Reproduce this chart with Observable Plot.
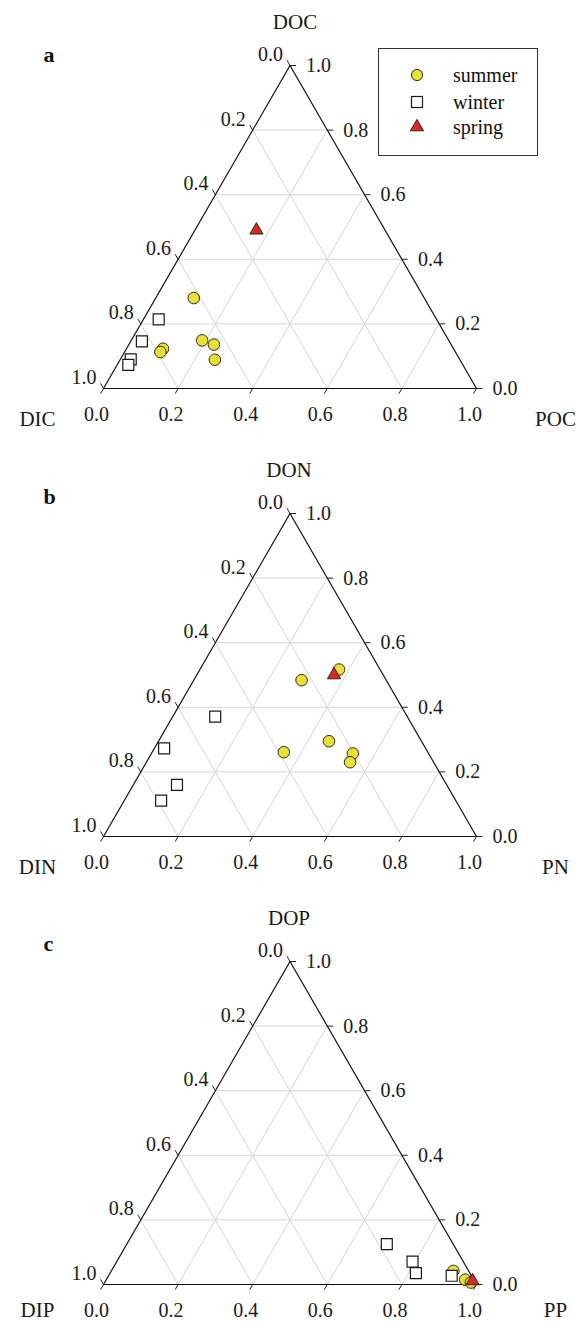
<!DOCTYPE html>
<html>
<head>
<meta charset="utf-8">
<script src="https://cdn.jsdelivr.net/npm/d3@7"></script>
<script src="https://cdn.jsdelivr.net/npm/@observablehq/plot@0.6"></script>
<style>
  body { margin: 0; background: #fff; color: #111; font-family: "Liberation Serif", "Times New Roman", serif; }
  #wrap { position: relative; width: 588px; height: 1323px; }
  #wrap svg { display: block; overflow: visible; }
  .legend { position: absolute; left: 378px; top: 48px; width: 160px; height: 108px; border: 1px solid #333; box-sizing: border-box; background: #fff; }
  .legend .row { position: absolute; left: 0; height: 24px; line-height: 24px; font-size: 20px; }
  .legend .row svg { position: absolute; left: 27px; top: 1px; }
  .legend .row span { position: absolute; left: 74px; top: 0; white-space: nowrap; }
</style>
</head>
<body>
<div id="wrap"></div>
<script>
// ---------- shared values ----------
const seasons = ["summer", "winter", "spring"];
const seasonSymbols = ["circle", "square", "triangle"];
const seasonFills = ["#e8e035", "#ffffff", "#d92a1f"];
const tickValues = [0, 0.2, 0.4, 0.6, 0.8, 1.0];
const gridValues = [0.2, 0.4, 0.6, 0.8];

// ---------- panel a: carbon ----------
const carbonSeason = ["summer","summer","summer","summer","summer","summer","winter","winter","winter","winter","spring"];
const carbonDIC = [0.618, 0.661, 0.636, 0.657, 0.779, 0.791, 0.745, 0.824, 0.882, 0.897, 0.345];
const carbonDOC = [0.280, 0.149, 0.136, 0.089, 0.123, 0.113, 0.214, 0.146, 0.090, 0.073, 0.490];
const carbonPOC = [0.102, 0.190, 0.228, 0.254, 0.098, 0.096, 0.041, 0.030, 0.028, 0.030, 0.165];

// ---------- panel b: nitrogen ----------
const nitrogenSeason = ["summer","summer","summer","summer","summer","summer","winter","winter","winter","winter","spring"];
const nitrogenDIN = [0.227, 0.110, 0.248, 0.386, 0.203, 0.224, 0.515, 0.701, 0.723, 0.790, 0.132];
const nitrogenDON = [0.484, 0.517, 0.295, 0.261, 0.257, 0.230, 0.371, 0.273, 0.160, 0.111, 0.500];
const nitrogenPN  = [0.289, 0.373, 0.457, 0.353, 0.540, 0.546, 0.114, 0.026, 0.117, 0.099, 0.368];

// ---------- panel c: phosphorus ----------
const phosSeason = ["summer","summer","summer","winter","winter","winter","winter","spring"];
const phosDIP = [0.041, 0.023, 0.012, 0.178, 0.136, 0.145, 0.053, 0.005];
const phosDOP = [0.042, 0.015, 0.006, 0.125, 0.071, 0.035, 0.027, 0.011];
const phosPP  = [0.917, 0.962, 0.982, 0.697, 0.793, 0.820, 0.920, 0.984];

const fmt = v => v.toFixed(1);
const D = 0.016; // tick length in composition units

function ternaryPanel({letter, top, left, right, season, topVals, rightVals, height, marginBottom, titleDx, letterDy, cornerDy}) {
  // ternary -> cartesian: x = right + top/2, y = top
  const pts = season.map((s, i) => ({season: s, x: rightVals[i] + topVals[i] / 2, y: topVals[i]}));
  const gridTop = gridValues.map(v => ({x1: v / 2, y1: v, x2: 1 - v / 2, y2: v}));
  const gridRight = gridValues.map(v => ({x1: v, y1: 0, x2: v + (1 - v) / 2, y2: 1 - v}));
  const gridLeft = gridValues.map(v => ({x1: 1 - v, y1: 0, x2: (1 - v) / 2, y2: 1 - v}));
  const ticksLeft = tickValues.map(v => ({v, x1: (1 - v) / 2, y1: 1 - v, x2: -D + (1 - v + D) / 2, y2: 1 - v + D}));
  const ticksBottom = tickValues.map(v => ({v, x1: v, y1: 0, x2: v - D / 2, y2: -D}));
  const ticksRight = tickValues.map(v => ({v, x1: 1 - v / 2, y1: v, x2: 1 - v / 2 + D, y2: v}));
  const outline = [{x: 0, y: 0}, {x: 1, y: 0}, {x: 0.5, y: 1}, {x: 0, y: 0}];
  const tickStyle = {x1: "x1", y1: "y1", x2: "x2", y2: "y2", stroke: "#222", strokeWidth: 1};
  const lab = {fontSize: 20, fill: "#1a1a1a"};
  const marks = [
    Plot.link(gridTop, {x1: "x1", y1: "y1", x2: "x2", y2: "y2", stroke: "#d6d6d6", strokeWidth: 1}),
    Plot.link(gridRight, {x1: "x1", y1: "y1", x2: "x2", y2: "y2", stroke: "#d6d6d6", strokeWidth: 1}),
    Plot.link(gridLeft, {x1: "x1", y1: "y1", x2: "x2", y2: "y2", stroke: "#d6d6d6", strokeWidth: 1}),
    Plot.line(outline, {x: "x", y: "y", stroke: "#111", strokeWidth: 1.2}),
    Plot.link(ticksLeft, tickStyle),
    Plot.link(ticksBottom, tickStyle),
    Plot.link(ticksRight, tickStyle),
    Plot.text(ticksLeft, {x: "x1", y: "y1", text: d => fmt(d.v), textAnchor: "end", dx: -7, dy: -11, ...lab}),
    Plot.text(ticksBottom, {x: "x1", y: "y1", text: d => fmt(d.v), textAnchor: "middle", dx: -7, dy: 26, ...lab}),
    Plot.text(ticksRight, {x: "x1", y: "y1", text: d => fmt(d.v), textAnchor: "start", dx: 16, dy: 0, ...lab}),
    Plot.text([top], {x: () => 0.5, y: () => 1, text: d => d, dx: titleDx, dy: -43, fontSize: 21, fill: "#1a1a1a"}),
    Plot.text([left], {x: () => 0, y: () => 0, text: d => d, dx: -66, dy: cornerDy, fontSize: 21, fill: "#1a1a1a"}),
    Plot.text([right], {x: () => 1, y: () => 0, text: d => d, dx: 79, dy: cornerDy, fontSize: 21, fill: "#1a1a1a"}),
    Plot.text([letter], {frameAnchor: "top-left", text: d => d, dx: -60, dy: letterDy, fontSize: 22, fontWeight: "bold", fill: "#111"})
  ];
  const radii = [5.8, 6.2, 4.9];
  seasons.forEach((s, i) => {
    marks.push(Plot.dot(pts.filter(d => d.season === s), {
      x: "x", y: "y", symbol: "season", fill: "season", r: radii[i],
      stroke: "#1a1a1a", strokeWidth: i === 1 ? 1.2 : 0.9
    }));
  });
  return Plot.plot({
    width: 588,
    height,
    marginLeft: 103,
    marginRight: 112,
    marginTop: 65,
    marginBottom,
    x: {domain: [0, 1], axis: null},
    y: {domain: [0, 1], axis: null},
    symbol: {domain: seasons, range: seasonSymbols},
    color: {domain: seasons, range: seasonFills},
    style: {fontFamily: "'Liberation Serif', 'Times New Roman', serif", background: "transparent", overflow: "visible"},
    marks
  });
}

const wrap = document.getElementById("wrap");
wrap.append(ternaryPanel({letter: "a", top: "DOC", left: "DIC", right: "POC", season: carbonSeason,
  topVals: carbonDOC, rightVals: carbonPOC, height: 448, marginBottom: 60, titleDx: 5, letterDy: -19, cornerDy: 31}));
wrap.append(ternaryPanel({letter: "b", top: "DON", left: "DIN", right: "PN", season: nitrogenSeason,
  topVals: nitrogenDON, rightVals: nitrogenPN, height: 448, marginBottom: 60, titleDx: -1, letterDy: -25, cornerDy: 31}));
wrap.append(ternaryPanel({letter: "c", top: "DOP", left: "DIP", right: "PP", season: phosSeason,
  topVals: phosDOP, rightVals: phosPP, height: 427, marginBottom: 39, titleDx: -1, letterDy: -26, cornerDy: 26}));

// ---------- legend ----------
const legend = document.createElement("div");
legend.className = "legend";
const rowCenters = [26, 52.7, 77.7];
seasons.forEach((s, i) => {
  const row = document.createElement("div");
  row.className = "row";
  row.style.top = (rowCenters[i] - 12) + "px";
  const sym = seasonSymbols[i];
  let shape;
  if (sym === "circle") shape = `<circle cx="11" cy="11" r="5.6" fill="${seasonFills[i]}" stroke="#1a1a1a" stroke-width="0.9"/>`;
  else if (sym === "square") shape = `<rect x="5.5" y="5.5" width="11" height="11" fill="${seasonFills[i]}" stroke="#1a1a1a" stroke-width="1.2"/>`;
  else shape = `<path d="${d3.symbol(d3.symbolTriangle, Math.PI * 4.9 * 4.9)()}" transform="translate(11,11)" fill="${seasonFills[i]}" stroke="#1a1a1a" stroke-width="0.9"/>`;
  row.innerHTML = `<svg width="22" height="22">${shape}</svg><span>${s}</span>`;
  legend.append(row);
});
wrap.append(legend);
</script>
</body>
</html>
